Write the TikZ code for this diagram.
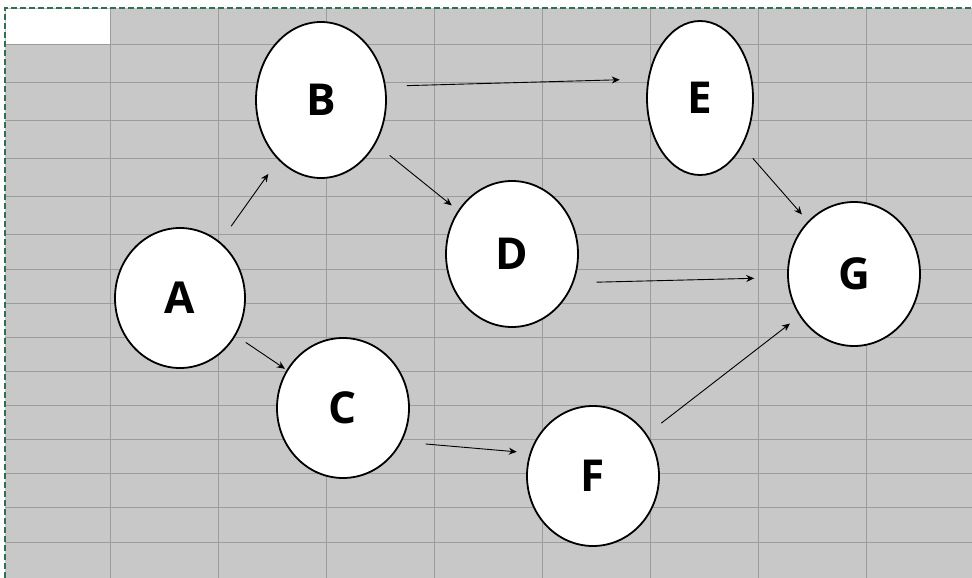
\documentclass[tikz,border=0pt]{standalone}
\usepackage{fontspec}
\setmainfont{Open Sans}
\usetikzlibrary{shapes.geometric,arrows.meta}
\definecolor{bg}{HTML}{C8C8C8}
\definecolor{gridc}{HTML}{9C9C9C}
\definecolor{brd}{HTML}{2E7050}
\tikzset{
  circ/.style={ellipse,draw=black,line width=1.8pt,fill=white,inner sep=0pt,font=\fontsize{44}{46}\selectfont\bfseries},
  conn/.style={-{Stealth[length=8pt,width=7pt]},line width=0.9pt,black}
}
\begin{document}
\begin{tikzpicture}[x=1pt,y=-1pt]
\useasboundingbox (0,0) rectangle (972,578);
\fill[white] (0,0) rectangle (972,578);
\fill[bg] (5,8) rectangle (972,578);
\foreach \x in {110,218,326,434,542,650,758,866} \draw[gridc,line width=0.7pt] (\x,8) -- (\x,578);
\foreach \y in {44,82,120,158,196,234,269,303,337,371,405,439,473,507,542} \draw[gridc,line width=0.7pt] (5,\y) -- (972,\y);
\fill[white] (6,9) rectangle (110,44);
\draw[brd,line width=2pt,dash pattern=on 6pt off 3pt] (5,578) -- (5,8) -- (972,8);
\node[circ,minimum width=130pt,minimum height=140pt] (A) at (180,298) {A};
\node[circ,minimum width=130pt,minimum height=156pt] (B) at (321,100) {B};
\node[circ,minimum width=132pt,minimum height=140pt] (C) at (343,408) {C};
\node[circ,minimum width=132pt,minimum height=146pt] (D) at (512,254) {D};
\node[circ,minimum width=106pt,minimum height=154pt] (E) at (700,98) {E};
\node[circ,minimum width=132pt,minimum height=140pt] (F) at (593,476) {F};
\node[circ,minimum width=132pt,minimum height=144pt] (G) at (854,274) {G};
\draw[conn,shorten <=19pt,shorten >=17pt] (A) -- (B);
\draw[conn,shorten <=12pt,shorten >=2pt] (A) -- (C);
\draw[conn,shorten <=21pt,shorten >=28pt] (B.12) -- (E.160);
\draw[conn,shorten <=18pt,shorten >=8pt] (B) -- (D);
\draw[conn,shorten <=23pt,shorten >=33pt] (D.-25) -- (G.183);
\draw[conn,shorten <=16pt,shorten >=9pt] (E) -- (G);
\draw[conn,shorten <=24pt,shorten >=13pt] (C.-30) -- (F.160);
\draw[conn,shorten <=18pt,shorten >=12pt] (F) -- (G);
\end{tikzpicture}
\end{document}
